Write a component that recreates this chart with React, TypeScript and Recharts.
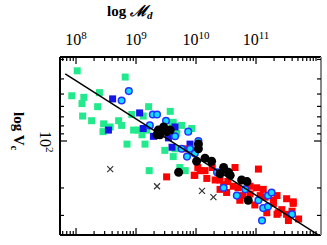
import { ScatterChart, Scatter, XAxis, YAxis } from 'recharts';

type Pt = [number, number]; // [log M_d, log V_c]

const greenSample: Pt[] = [
  [8.02, 1.55], [8.82, 1.59], [7.93, 1.71], [8.13, 1.72], [8.1, 1.76], [8.39, 1.69],
  [8.36, 1.78], [8.11, 1.84], [8.26, 1.87], [8.46, 1.89], [8.45, 1.94], [8.57, 1.91],
  [8.71, 1.87], [8.76, 1.9], [8.93, 1.83], [9.21, 1.78], [9.12, 1.84], [8.96, 1.93],
  [9.04, 1.93], [9.1, 1.96], [9.18, 1.93], [8.85, 2.02], [9.15, 2.02], [9.62, 1.88],
  [9.57, 1.81], [9.6, 1.89], [9.76, 1.9], [9.93, 1.92], [9.68, 1.95], [9.48, 2.06],
  [9.65, 2.05], [9.62, 2.1], [9.73, 2.17], [9.82, 2.19], [9.22, 2.19],
];

const blueSquares: Pt[] = [
  [8.61, 1.73], [9.06, 1.82], [8.54, 1.93], [9.12, 1.92], [9.29, 1.97], [9.54, 1.98],
  [9.65, 1.91], [9.6, 2.04], [9.9, 2.02],
];

const redSample: Pt[] = [
  [9.82, 2.05], [10.07, 2.19], [10.15, 2.19], [9.98, 2.22], [9.51, 2.23], [10.65, 2.17],
  [11.04, 2.18], [10.4, 2.25], [10.46, 2.28], [10.62, 2.29], [10.9, 2.29], [11.01, 2.3],
  [11.07, 2.35], [10.9, 2.34], [10.73, 2.38], [11.15, 2.36], [11.35, 2.35], [11.51, 2.37],
  [11.62, 2.39], [11.29, 2.38], [11.43, 2.44], [11.18, 2.46], [11.35, 2.47], [11.6, 2.45],
  [11.71, 2.5], [11.51, 2.47], [10.51, 2.33], [10.4, 2.31], [9.97, 2.22], [10.03, 2.17],
  [11.29, 2.4], [11.37, 2.46], [11.54, 2.51], [11.62, 2.4], [10.27, 2.17], [10.32, 2.25],
  [10.53, 2.26], [10.7, 2.3], [10.78, 2.35], [10.98, 2.41], [11.12, 2.31], [10.18, 2.24],
];

const cyanCircles: Pt[] = [
  [8.88, 1.68], [8.76, 1.74], [9.28, 1.83], [9.35, 1.83], [9.5, 1.87], [9.23, 1.9],
  [9.87, 1.94], [9.65, 1.97], [9.85, 2.1], [10.04, 2.0], [9.9, 2.05], [9.76, 2.05],
  [9.98, 2.08], [10.35, 2.2], [10.46, 2.3], [10.68, 2.35], [10.82, 2.31], [11.04, 2.38],
  [11.2, 2.35], [11.26, 2.33], [11.12, 2.43], [11.2, 2.42], [11.1, 2.51], [11.6, 2.47],
];

const blackCircles: Pt[] = [
  [9.37, 1.93], [9.46, 1.91], [9.51, 1.94], [9.4, 1.96], [9.57, 1.93], [9.35, 1.96],
  [10.04, 2.02], [10.04, 2.05], [10.15, 2.11], [10.01, 2.13], [10.26, 2.13], [9.71, 2.2],
  [10.46, 2.17], [10.4, 2.21], [10.57, 2.22], [10.54, 2.2], [10.76, 2.25], [10.85, 2.26],
  [10.87, 2.38],
];

const crosses: Pt[] = [[8.57, 2.18], [9.35, 2.29], [10.1, 2.32], [10.29, 2.36]];

const fitLine: Pt[] = [[7.82, 1.57], [12.03, 2.6]];

const xDomain = [7.733, 12.083];
const yDomain = [1.4615, 2.6026];
const xMajor = [8, 9, 10, 11];
const yMajor = [2];
const minorSteps = [2, 3, 4, 5, 6, 7, 8, 9];

const logTicks = (lo: number, hi: number) => {
  const out: number[] = [];
  for (let d = Math.floor(lo); d <= Math.ceil(hi); d++) {
    minorSteps.forEach((k) => {
      const t = d + Math.log10(k);
      if (t > lo + 0.01 && t < hi - 0.01) out.push(t);
    });
    if (d > lo && d < hi) out.push(d);
  }
  return out.sort((a, b) => a - b);
};

const xTicks = logTicks(xDomain[0], xDomain[1]);
const yTicks = logTicks(yDomain[0], yDomain[1]);

const rows = (pts: Pt[]) => pts.map(([m, v]) => ({ m, v }));
const isMajor = (v: number, majors: number[]) => majors.some((t) => Math.abs(t - v) < 1e-6);

const serif = '"Liberation Serif", "DejaVu Serif", serif';

const TopTick = ({ x, y, payload }: any) => {
  const major = isMajor(payload.value, xMajor);
  return (
    <g>
      <line x1={x} x2={x} y1={y} y2={y + (major ? 7 : 4)} stroke="#000" strokeWidth={1.2} />
      {major && (
        <text x={x} y={y - 12} textAnchor="middle" fontFamily={serif} fontSize={16} fill="#000">
          10
          <tspan dy={-6} fontSize={11}>{Math.round(payload.value)}</tspan>
        </text>
      )}
    </g>
  );
};

const BottomTick = ({ x, y, payload }: any) => {
  const major = isMajor(payload.value, xMajor);
  return <line x1={x} x2={x} y1={y} y2={y - (major ? 7 : 4)} stroke="#000" strokeWidth={1.2} />;
};

const LeftTick = ({ x, y, payload }: any) => {
  const major = isMajor(payload.value, yMajor);
  return (
    <g>
      <line x1={x} x2={x + (major ? 7 : 4)} y1={y} y2={y} stroke="#000" strokeWidth={1.2} />
      {major && (
        <text transform={`translate(${x - 20},${y - 10}) rotate(90)`} fontFamily={serif} fontSize={16} fill="#000">
          10
          <tspan dy={-6} fontSize={11}>{Math.round(payload.value)}</tspan>
        </text>
      )}
    </g>
  );
};

const RightTick = ({ x, y, payload }: any) => {
  const major = isMajor(payload.value, yMajor);
  return <line x1={x} x2={x - (major ? 7 : 4)} y1={y} y2={y} stroke="#000" strokeWidth={1.2} />;
};

const square = (fill: string, size: number) => (p: any) =>
  <rect x={p.cx - size / 2} y={p.cy - size / 2} width={size} height={size} fill={fill} />;

const CyanDot = (p: any) => <circle cx={p.cx} cy={p.cy} r={3.3} fill="#12dcff" stroke="#2233ff" strokeWidth={1.5} />;
const BlackDot = (p: any) => <circle cx={p.cx} cy={p.cy} r={4.5} fill="#000" />;
const Cross = (p: any) => (
  <g stroke="#333" strokeWidth={1.2}>
    <line x1={p.cx - 3} y1={p.cy - 3} x2={p.cx + 3} y2={p.cy + 3} />
    <line x1={p.cx - 3} y1={p.cy + 3} x2={p.cx + 3} y2={p.cy - 3} />
  </g>
);
const NoDot = () => <g />;

export default function App() {
  return (
    <div style={{ position: 'absolute', left: 0, top: 0, width: 327, height: 245, background: '#fff' }}>
      <ScatterChart width={327} height={245} margin={{ top: 56, right: 5, bottom: 9, left: 59 }}>
        <XAxis
          xAxisId="top"
          orientation="top"
          type="number"
          dataKey="m"
          domain={xDomain}
          allowDataOverflow
          ticks={xTicks}
          interval={0}
          height={1}
          tickSize={0}
          tickMargin={0}
          tickLine={false}
          axisLine={{ stroke: '#000', strokeWidth: 2 }}
          tick={(p: any) => <TopTick {...p} />}
        />
        <XAxis
          xAxisId="bottom"
          orientation="bottom"
          type="number"
          dataKey="m"
          domain={xDomain}
          allowDataOverflow
          ticks={xTicks}
          interval={0}
          height={1}
          tickSize={0}
          tickMargin={0}
          tickLine={false}
          axisLine={{ stroke: '#000', strokeWidth: 2 }}
          tick={(p: any) => <BottomTick {...p} />}
        />
        <YAxis
          yAxisId="left"
          orientation="left"
          type="number"
          dataKey="v"
          domain={yDomain}
          reversed
          allowDataOverflow
          ticks={yTicks}
          interval={0}
          width={1}
          tickSize={0}
          tickMargin={0}
          tickLine={false}
          axisLine={{ stroke: '#000', strokeWidth: 2 }}
          tick={(p: any) => <LeftTick {...p} />}
        />
        <YAxis
          yAxisId="right"
          orientation="right"
          type="number"
          dataKey="v"
          domain={yDomain}
          reversed
          allowDataOverflow
          ticks={yTicks}
          interval={0}
          width={1}
          tickSize={0}
          tickMargin={0}
          tickLine={false}
          axisLine={{ stroke: '#888', strokeWidth: 2 }}
          tick={(p: any) => <RightTick {...p} />}
        />
        <Scatter xAxisId="top" yAxisId="left" data={rows(greenSample)} shape={square('#22ea8c', 7)} isAnimationActive={false} />
        <Scatter xAxisId="top" yAxisId="left" data={rows(blueSquares)} shape={square('#1414e6', 7)} isAnimationActive={false} />
        <Scatter xAxisId="top" yAxisId="left" data={rows(redSample)} shape={square('#ff0000', 7)} isAnimationActive={false} />
        <Scatter xAxisId="top" yAxisId="left" data={rows(cyanCircles)} shape={CyanDot} isAnimationActive={false} />
        <Scatter xAxisId="top" yAxisId="left" data={rows(blackCircles)} shape={BlackDot} isAnimationActive={false} />
        <Scatter xAxisId="top" yAxisId="left" data={rows(crosses)} shape={Cross} isAnimationActive={false} />
        <Scatter
          xAxisId="top"
          yAxisId="left"
          data={rows(fitLine)}
          line={{ stroke: '#000', strokeWidth: 1.5 }}
          shape={NoDot}
          isAnimationActive={false}
        />
        <Scatter xAxisId="bottom" yAxisId="right" data={rows(fitLine)} shape={NoDot} isAnimationActive={false} />
      </ScatterChart>
      <svg width={327} height={245} style={{ position: 'absolute', left: 0, top: 0, pointerEvents: 'none' }}>
        <text x={107} y={16} fontFamily={serif} fontWeight="bold" fontSize={15} fill="#000">
          log <tspan fontStyle="italic">ℳ</tspan>
          <tspan dy={3} fontSize={11} fontStyle="italic">d</tspan>
        </text>
        <text transform="translate(14,112) rotate(90)" fontFamily={serif} fontWeight="bold" fontSize={15} fill="#000">
          log V<tspan dy={3} fontSize={11}>c</tspan>
        </text>
      </svg>
    </div>
  );
}
